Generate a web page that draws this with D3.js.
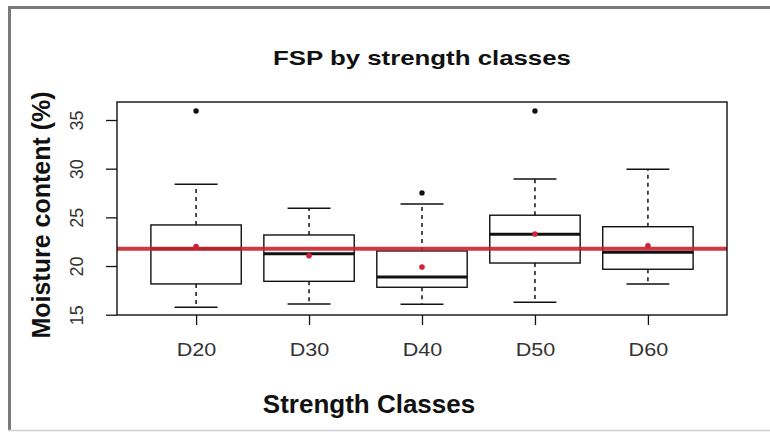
<!DOCTYPE html>
<html>
<head>
<meta charset="utf-8">
<script src="https://cdn.jsdelivr.net/npm/d3@7"></script>
<style>
  body { margin: 0; background: #fff; }
  text { font-family: "Liberation Sans", Arial, sans-serif; fill: #111; }
</style>
</head>
<body>
<div id="chart"></div>
<script>
// values
const categories = ["D20", "D30", "D40", "D50", "D60"];
const whiskerLow = [15.76, 16.10, 16.07, 16.27, 18.16];
const q1 = [18.16, 18.43, 17.82, 20.31, 19.67];
const medians = [21.78, 21.27, 18.87, 23.26, 21.41];
const q3 = [24.22, 23.19, 21.55, 25.22, 24.04];
const whiskerHigh = [28.40, 25.94, 26.38, 28.95, 29.94];
const means = [21.99, 21.06, 19.90, 23.29, 22.09];
const outlierCat = ["D20", "D40", "D50"];
const outlierVal = [35.93, 27.51, 35.93];
const overallMean = 21.78;
const yTicks = [15, 20, 25, 30, 35];

const width = 770, height = 432;
const plot = { left: 117, right: 727, top: 102, bottom: 315 };

const svg = d3.select("#chart").append("svg")
  .attr("width", width)
  .attr("height", height);

svg.append("rect").attr("width", width).attr("height", height).attr("fill", "#fff");

// outer frame of the picture
svg.append("line").attr("x1", 8).attr("x2", width).attr("y1", 7.5).attr("y2", 7.5)
  .attr("stroke", "#7a7a7a").attr("stroke-width", 3);
svg.append("line").attr("x1", 9.5).attr("x2", 9.5).attr("y1", 6).attr("y2", 431)
  .attr("stroke", "#7a7a7a").attr("stroke-width", 3);
svg.append("line").attr("x1", 8).attr("x2", width).attr("y1", 430.5).attr("y2", 430.5)
  .attr("stroke", "#cfcfcf").attr("stroke-width", 1.5);

var x = d3.scaleLinear().domain([0.3, 5.7]).range([plot.left, plot.right]);
var y = d3.scaleLinear().domain([14.97, 36.85]).range([plot.bottom, plot.top]);
const pos = c => x(categories.indexOf(c) + 1);

// axes
var yAxis = d3.axisLeft(y).tickValues(yTicks).tickSize(11).tickFormat(d3.format("d"));
var gy = svg.append("g")
  .attr("transform", `translate(${plot.left},0)`)
  .call(yAxis);
gy.select(".domain").remove();
gy.selectAll(".tick line").attr("stroke", "#111").attr("stroke-width", 1.3);
gy.selectAll(".tick text")
  .attr("x", null).attr("dy", null)
  .attr("transform", "translate(-34,0) rotate(-90)")
  .attr("text-anchor", "middle")
  .style("font-size", "18px")
  .style("fill", "#333");

var xAxis = d3.axisBottom(x).tickValues(d3.range(1, categories.length + 1))
  .tickSize(10).tickFormat(d => categories[d - 1]);
var gx = svg.append("g")
  .attr("transform", `translate(0,${plot.bottom})`)
  .call(xAxis);
gx.select(".domain").remove();
gx.selectAll(".tick line").attr("stroke", "#111").attr("stroke-width", 1.3);
gx.selectAll(".tick text")
  .attr("y", null).attr("dy", null)
  .attr("transform", "translate(0,41) scale(1.2,1)")
  .style("font-size", "18px")
  .style("fill", "#333");

// boxes
var boxes = svg.append("g").selectAll("g").data(categories).enter().append("g");
const bw = 0.4, cw = 0.19;

boxes.append("line")
  .attr("x1", (d, i) => x(i + 1)).attr("x2", (d, i) => x(i + 1))
  .attr("y1", (d, i) => y(q3[i])).attr("y2", (d, i) => y(whiskerHigh[i]))
  .attr("stroke", "#111").attr("stroke-width", 1.5).attr("stroke-dasharray", "4,4");
boxes.append("line")
  .attr("x1", (d, i) => x(i + 1)).attr("x2", (d, i) => x(i + 1))
  .attr("y1", (d, i) => y(q1[i])).attr("y2", (d, i) => y(whiskerLow[i]))
  .attr("stroke", "#111").attr("stroke-width", 1.5).attr("stroke-dasharray", "4,4");
boxes.append("line")
  .attr("x1", (d, i) => x(i + 1 - cw)).attr("x2", (d, i) => x(i + 1 + cw))
  .attr("y1", (d, i) => y(whiskerHigh[i])).attr("y2", (d, i) => y(whiskerHigh[i]))
  .attr("stroke", "#111").attr("stroke-width", 1.5);
boxes.append("line")
  .attr("x1", (d, i) => x(i + 1 - cw)).attr("x2", (d, i) => x(i + 1 + cw))
  .attr("y1", (d, i) => y(whiskerLow[i])).attr("y2", (d, i) => y(whiskerLow[i]))
  .attr("stroke", "#111").attr("stroke-width", 1.5);
boxes.append("rect")
  .attr("x", (d, i) => x(i + 1 - bw))
  .attr("width", (d, i) => x(i + 1 + bw) - x(i + 1 - bw))
  .attr("y", (d, i) => y(q3[i]))
  .attr("height", (d, i) => y(q1[i]) - y(q3[i]))
  .attr("fill", "#fff").attr("stroke", "#111").attr("stroke-width", 1.4);
boxes.append("line")
  .attr("x1", (d, i) => x(i + 1 - bw)).attr("x2", (d, i) => x(i + 1 + bw))
  .attr("y1", (d, i) => y(medians[i])).attr("y2", (d, i) => y(medians[i]))
  .attr("stroke", "#111").attr("stroke-width", 3);

// outliers
svg.append("g").selectAll("circle").data(outlierCat).enter().append("circle")
  .attr("cx", d => pos(d))
  .attr("cy", (d, i) => y(outlierVal[i]))
  .attr("r", 2.7)
  .attr("fill", "#111");

// overall mean line
svg.append("line")
  .attr("x1", plot.left).attr("x2", plot.right)
  .attr("y1", y(overallMean)).attr("y2", y(overallMean))
  .attr("stroke", "#c8262c").attr("stroke-width", 4).attr("stroke-opacity", 0.9);

// group means
svg.append("g").selectAll("circle").data(categories).enter().append("circle")
  .attr("cx", (d, i) => x(i + 1))
  .attr("cy", (d, i) => y(means[i]))
  .attr("r", 2.8)
  .attr("fill", "#d0203a");

// plot frame
svg.append("rect")
  .attr("x", plot.left).attr("y", plot.top)
  .attr("width", plot.right - plot.left).attr("height", plot.bottom - plot.top)
  .attr("fill", "none").attr("stroke", "#111").attr("stroke-width", 1.4);

// titles
svg.append("text")
  .attr("transform", `translate(${(plot.left + plot.right) / 2},65) scale(1.23,1)`)
  .attr("text-anchor", "middle")
  .style("font-size", "21px").style("font-weight", "bold")
  .text("FSP by strength classes");

svg.append("text")
  .attr("transform", "translate(369,413)")
  .attr("text-anchor", "middle")
  .style("font-size", "26px").style("font-weight", "bold")
  .text("Strength Classes");

svg.append("text")
  .attr("transform", "translate(50,215) rotate(-90)")
  .attr("text-anchor", "middle")
  .style("font-size", "25px").style("font-weight", "bold")
  .text("Moisture content (%)");
</script>
</body>
</html>
